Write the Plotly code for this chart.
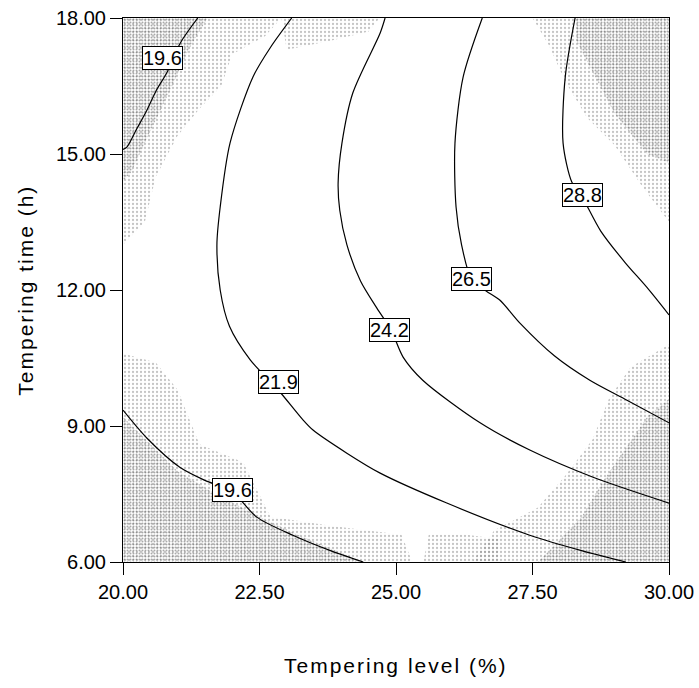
import plotly.graph_objects as go

# ---------------- data ----------------
x_ticks = [20.0, 22.5, 25.0, 27.5, 30.0]
y_ticks = [6.0, 9.0, 12.0, 15.0, 18.0]

# contour lines (tempering level %, tempering time h)
c196a_x = [21.37, 21.05, 20.81, 20.60, 20.44, 20.25, 20.07, 20.0]
c196a_y = [18.0, 17.45, 16.81, 16.38, 15.97, 15.55, 15.15, 15.1]
c196b_x = [20.0, 20.44, 21.04, 21.5, 22.0, 22.45, 23.11, 23.8, 24.40]
c196b_y = [9.35, 8.73, 8.09, 7.80, 7.55, 6.99, 6.59, 6.25, 6.0]
c219_x = [23.09, 22.70, 22.38, 21.96, 21.78, 21.72, 21.78, 21.95, 22.33, 22.84, 23.30, 23.48, 24.10, 24.71, 25.93, 27.45, 28.40, 29.21]
c219_y = [18.0, 17.35, 16.70, 15.24, 13.83, 13.0, 12.0, 11.2, 10.46, 9.80, 9.13, 8.91, 8.40, 7.96, 7.30, 6.59, 6.25, 6.0]
c242_x = [24.80, 24.71, 24.21, 24.01, 23.94, 23.97, 24.10, 24.35, 24.65, 24.91, 25.13, 25.49, 26.54, 27.45, 28.61, 30.0]
c242_y = [18.0, 17.67, 16.35, 15.24, 14.36, 13.76, 13.0, 12.2, 11.6, 11.12, 10.52, 10.01, 9.07, 8.47, 7.87, 7.30]
c265_x = [26.58, 26.23, 26.08, 26.10, 26.20, 26.38, 26.65, 26.90, 27.27, 27.90, 28.55, 29.23, 30.0]
c265_y = [18.0, 16.70, 15.24, 13.83, 13.00, 12.25, 11.98, 11.78, 11.27, 10.55, 10.01, 9.57, 9.07]
c288_x = [28.28, 28.10, 28.06, 28.22, 28.41, 28.75, 29.20, 29.60, 30.0]
c288_y = [18.0, 16.70, 15.24, 14.38, 14.05, 13.30, 12.60, 12.05, 11.45]

label_text = ["19.6", "19.6", "21.9", "24.2", "26.5", "28.8"]
label_x = [20.73, 22.00, 22.84, 24.88, 26.38, 28.41]
label_y = [17.12, 7.59, 9.97, 11.12, 12.25, 14.09]

# stippled (shaded) regions
light_regions = [
    ([20, 22.9, 22.6, 22.0, 21.8, 21.4, 21.0, 20.6, 20.4, 20],
     [18, 18, 17.6, 17.2, 16.5, 16.0, 15.4, 14.5, 13.5, 13.0]),
    ([22.9, 24.7, 24.5, 23.8, 23.0],
     [18, 18, 17.7, 17.5, 17.3]),
    ([20, 20, 20.6, 21.0, 21.4, 22.2, 22.7, 23.8, 25.1, 25.3],
     [6, 10.6, 10.4, 9.8, 8.6, 8.2, 7.0, 6.8, 6.6, 6]),
    ([25.5, 25.6, 26.3, 26.9, 26.9],
     [6, 6.6, 6.6, 6.5, 6]),
    ([30, 26.4, 26.8, 27.6, 28.1, 28.6, 28.9, 29.3, 30],
     [6, 6, 6.7, 7.2, 7.9, 8.7, 9.6, 10.3, 10.8]),
    ([27.5, 30, 30, 29.5, 29.0, 28.5, 28.1, 27.8],
     [18, 18, 13.5, 14.3, 15.2, 15.8, 16.6, 17.4]),
]
dense_regions = [
    ([20, 21.55, 21.2, 20.9, 20.5, 20.15, 20],
     [18, 18, 17.3, 16.5, 15.5, 14.6, 14.4]),
    ([20, 20, 20.5, 21.0, 21.7, 22.5, 23.2, 24.0, 24.4],
     [6, 9.2, 8.6, 8.0, 7.5, 7.0, 6.6, 6.2, 6]),
    ([30, 27.6, 28.0, 28.4, 28.8, 29.2, 29.6, 30],
     [6, 6, 6.5, 7.0, 7.8, 8.5, 9.2, 9.6]),
    ([28.3, 30, 30, 29.6, 29.0, 28.6, 28.3],
     [18, 18, 14.8, 15.0, 15.9, 16.8, 17.5]),
]

x_title = "Tempering level (%)"
y_title = "Tempering time (h)"

FONT = "Liberation Sans, Arial"

# ---------------- figure ----------------
fig = go.Figure()

for rx, ry in light_regions:
    fig.add_trace(go.Scatter(
        x=rx, y=ry, mode="lines", fill="toself", line=dict(width=0),
        fillcolor="rgba(0,0,0,0)",
        fillpattern=dict(shape=".", size=4, solidity=0.25, fgcolor="#8a8a8a",
                         bgcolor="rgba(0,0,0,0)"),
        hoverinfo="skip", showlegend=False))
for rx, ry in dense_regions:
    fig.add_trace(go.Scatter(
        x=rx, y=ry, mode="lines", fill="toself", line=dict(width=0),
        fillcolor="rgba(0,0,0,0)",
        fillpattern=dict(shape=".", size=3, solidity=0.35, fgcolor="#555555",
                         bgcolor="rgba(0,0,0,0)"),
        hoverinfo="skip", showlegend=False))

for cx, cy in [(c196a_x, c196a_y), (c196b_x, c196b_y), (c219_x, c219_y),
               (c242_x, c242_y), (c265_x, c265_y), (c288_x, c288_y)]:
    fig.add_trace(go.Scatter(
        x=cx, y=cy, mode="lines",
        line=dict(color="black", width=1.2, shape="spline", smoothing=0.8),
        hoverinfo="skip", showlegend=False))

for t, lx, ly in zip(label_text, label_x, label_y):
    fig.add_annotation(x=lx, y=ly, text=t, showarrow=False,
                       font=dict(family=FONT, size=20, color="black"),
                       bgcolor="white", bordercolor="black", borderwidth=1, borderpad=0)

spaced = '<span style="letter-spacing:2px">{}</span>'
fig.add_annotation(xref="paper", yref="paper", x=0.5, y=-0.19, text=spaced.format(x_title),
                   showarrow=False, xanchor="center", yanchor="middle",
                   font=dict(family=FONT, size=21, color="black"))
fig.add_annotation(xref="paper", yref="paper", x=-0.18, y=0.5, text=spaced.format(y_title),
                   showarrow=False, textangle=-90, xanchor="center", yanchor="middle",
                   font=dict(family=FONT, size=21, color="black"))

axis_common = dict(showgrid=False, zeroline=False, showline=True, mirror=True,
                   linecolor="black", linewidth=1, ticks="outside", ticklen=12,
                   tickcolor="black", tickwidth=1, tickformat=".2f",
                   tickfont=dict(family=FONT, size=20, color="black"))
fig.update_xaxes(range=[20, 30], tickvals=x_ticks, **axis_common)
fig.update_yaxes(range=[6, 18], tickvals=y_ticks, **axis_common)

fig.update_layout(width=699, height=688, plot_bgcolor="white", paper_bgcolor="white",
                  margin=dict(l=123, r=30, t=18, b=126, autoexpand=False))

fig.write_html("out.html")
